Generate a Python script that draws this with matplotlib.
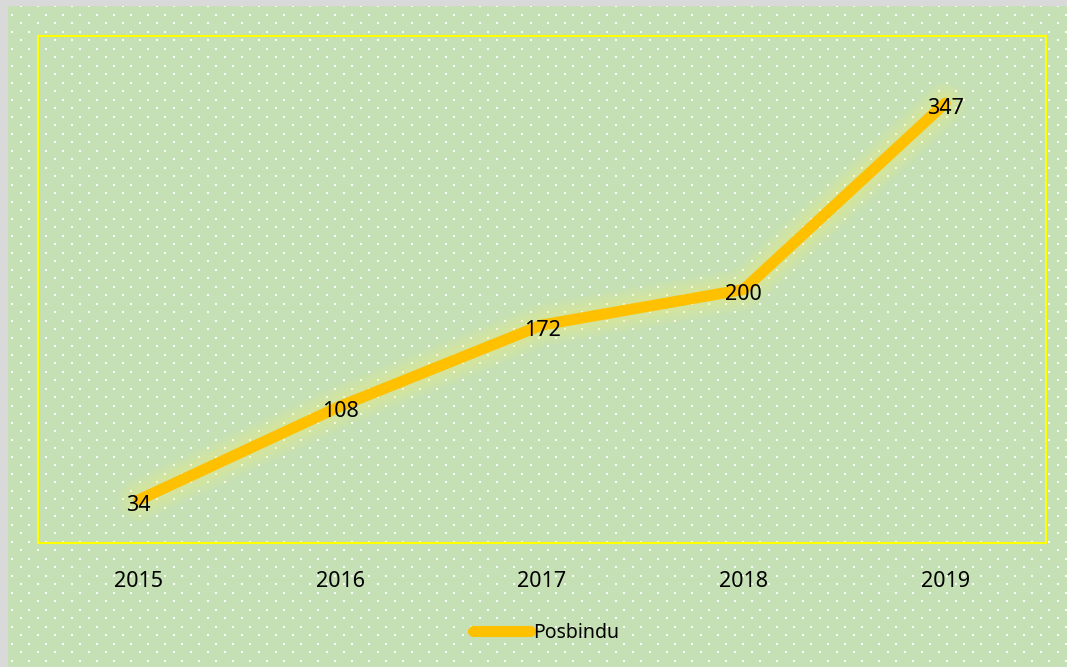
import numpy as np
import matplotlib
matplotlib.use("Agg")
import matplotlib.pyplot as plt

# data
years = ["2015", "2016", "2017", "2018", "2019"]
posbindu = [34, 108, 172, 200, 347]

W, H = 1067, 667
fig = plt.figure(figsize=(W / 100, H / 100), dpi=100)
fig.patch.set_facecolor("#D9D9D9")
plt.rcParams["font.family"] = ["Noto Sans", "DejaVu Sans"]

# green chart area with white dotted pattern
bg = fig.add_axes([8 / W, 0, 1 - 8 / W, 1 - 6 / H])
bg.set_facecolor("#C5E0B4")
bg.set_xlim(8, W)
bg.set_ylim(H, 6)
bg.set_xticks([])
bg.set_yticks([])
for s in bg.spines.values():
    s.set_visible(False)
gx, gy = np.meshgrid(np.arange(0, W + 17, 17.0), np.arange(0, H + 17, 17.0))
bg.scatter(gx.ravel() + 12, gy.ravel() + 15, s=2.6, marker="s", color="white", lw=0, alpha=0.95)
bg.scatter(gx.ravel() + 3.5, gy.ravel() + 6.5, s=2.6, marker="s", color="white", lw=0, alpha=0.95)

# plot area
ax = fig.add_axes([38 / W, 1 - 543 / H, (1046 - 38) / W, (543 - 36) / H])
ax.patch.set_visible(False)
x = np.arange(len(years))

# soft glow around the line
for lw, a in [(30, 0.07), (25, 0.09), (20, 0.11), (15, 0.14)]:
    ax.plot(x, posbindu, color="#F2F07A", lw=lw, alpha=a, solid_capstyle="round",
            solid_joinstyle="round", zorder=2)
ax.plot(x, posbindu, color="#FFC000", lw=8, solid_capstyle="round",
        solid_joinstyle="round", zorder=3, label="Posbindu")

for xi, v in zip(x, posbindu):
    ax.annotate(str(v), (xi, v), xytext=(0, -2), textcoords="offset points",
                ha="center", va="center_baseline", fontsize=15.5, color="black", zorder=4)

ax.set_xlim(-0.5, len(years) - 0.5)
ax.set_ylim(0, 400)
ax.set_yticks([])
ax.set_xticks(x)
ax.set_xticklabels(years, fontsize=15.5)
ax.tick_params(axis="x", length=0, pad=20)
for s in ax.spines.values():
    s.set_color("#FFFF00")
    s.set_linewidth(1.5)

leg = fig.legend(loc="center", bbox_to_anchor=(546 / W, 1 - 633 / H), frameon=False,
                 fontsize=14, handlelength=2.9, handletextpad=0.15)

fig.savefig("out.png", dpi=100, facecolor=fig.get_facecolor())
